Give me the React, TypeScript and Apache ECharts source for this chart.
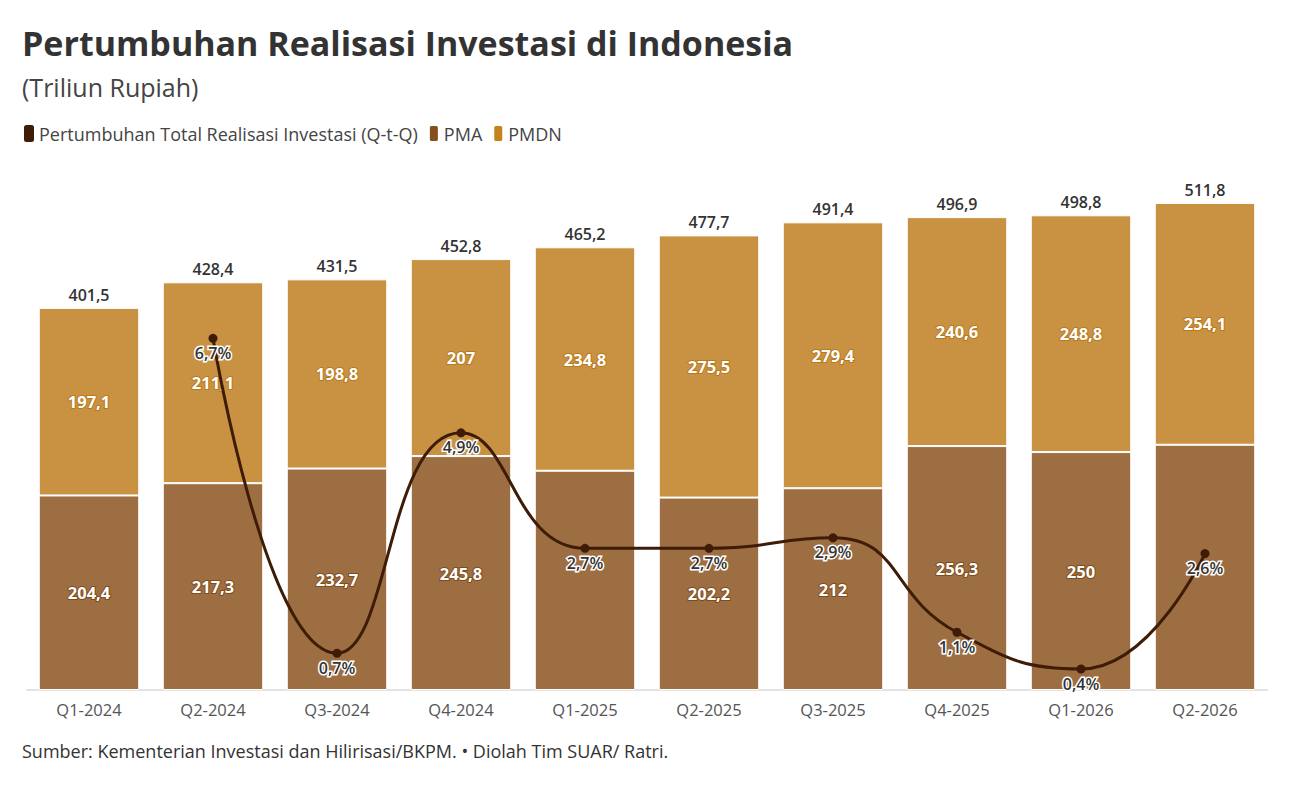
import React, { useEffect, useRef } from 'react';
import * as echarts from 'echarts';

const categories = ['Q1-2024', 'Q2-2024', 'Q3-2024', 'Q4-2024', 'Q1-2025', 'Q2-2025', 'Q3-2025', 'Q4-2025', 'Q1-2026', 'Q2-2026'];
const pma = [204.4, 217.3, 232.7, 245.8, 230.4, 202.2, 212, 256.3, 250, 257.7];
const pmdn = [197.1, 211.1, 198.8, 207, 234.8, 275.5, 279.4, 240.6, 248.8, 254.1];
const totals = [401.5, 428.4, 431.5, 452.8, 465.2, 477.7, 491.4, 496.9, 498.8, 511.8];
const growth = [null, 6.7, 0.7, 4.9, 2.7, 2.7, 2.9, 1.1, 0.4, 2.6];
// PMA labels hidden where the growth label sits on top of them
const pmaLabelHidden = [false, false, false, false, true, false, false, false, false, true];

const FONT = 'Open Sans';
const fmt = (v: number) => String(v).replace('.', ',');

export default function App() {
    const chartRef = useRef<HTMLDivElement>(null);

    useEffect(() => {
        if (!chartRef.current) return;
        const chart = echarts.init(chartRef.current, null, { renderer: 'svg' });

        const option = {
            animation: false,
            textStyle: { fontFamily: FONT },
            title: [
                {
                    text: 'Pertumbuhan Realisasi Investasi di Indonesia',
                    left: 9, top: 13,
                    textStyle: { fontSize: 34, fontWeight: 'bold', color: '#333', fontFamily: FONT },
                },
                {
                    text: '(Triliun Rupiah)',
                    left: 9, top: 61,
                    textStyle: { fontSize: 25, fontWeight: 'normal', color: '#444', fontFamily: FONT },
                },
                {
                    text: 'Sumber: Kementerian Investasi dan Hilirisasi/BKPM. • Diolah Tim SUAR/ Ratri.',
                    left: 9, top: 729,
                    textStyle: { fontSize: 18, fontWeight: 'normal', color: '#333', fontFamily: FONT },
                },
            ],
            legend: {
                left: 11, top: 111,
                itemWidth: 10, itemHeight: 17, itemGap: 10,
                icon: 'roundRect',
                textStyle: { fontSize: 18, color: '#444', fontFamily: FONT, padding: [0, 0, 0, 0] },
                data: [
                    { name: 'Pertumbuhan Total Realisasi Investasi (Q-t-Q)', itemStyle: { color: '#3f1c07' } },
                    { name: 'PMA', itemStyle: { color: '#85501e' } },
                    { name: 'PMDN', itemStyle: { color: '#c4821f' } },
                ],
            },
            grid: { left: 19, right: 17, top: 111, bottom: 91, containLabel: false },
            xAxis: {
                type: 'category',
                data: categories,
                axisLine: { lineStyle: { color: '#e3e3e3', width: 2 } },
                axisTick: { alignWithLabel: true, length: 6, lineStyle: { color: '#e3e3e3' } },
                axisLabel: { fontSize: 16.5, color: '#555', margin: 11, fontFamily: FONT },
            },
            yAxis: [
                { type: 'value', min: 0, max: 600, show: false },
                { type: 'value', min: 0, max: 10.88, show: false },
            ],
            series: [
                {
                    name: 'PMA',
                    type: 'bar',
                    stack: 'total',
                    barWidth: '81%',
                    data: pma.map((v, i) => ({ value: v, label: { show: !pmaLabelHidden[i] } })),
                    itemStyle: { color: '#9d6e42', borderColor: '#fff', borderWidth: 1 },
                    label: {
                        show: true, position: 'inside',
                        formatter: (p: any) => fmt(p.value),
                        color: '#fff', fontSize: 16.5, fontWeight: 'bold', fontFamily: FONT,
                        textBorderColor: '#7f4c1c', textBorderWidth: 2,
                    },
                    z: 2,
                },
                {
                    name: 'PMDN',
                    type: 'bar',
                    stack: 'total',
                    data: pmdn,
                    itemStyle: { color: '#c99243', borderColor: '#fff', borderWidth: 1 },
                    label: {
                        show: true, position: 'inside',
                        formatter: (p: any) => fmt(p.value),
                        color: '#fff', fontSize: 16.5, fontWeight: 'bold', fontFamily: FONT,
                        textBorderColor: '#b97a1c', textBorderWidth: 2,
                    },
                    z: 2,
                },
                {
                    name: 'Total',
                    type: 'bar',
                    stack: 'total',
                    data: totals.map(() => 0),
                    itemStyle: { color: 'transparent' },
                    label: {
                        show: true, position: 'top', distance: 5,
                        formatter: (p: any) => fmt(totals[p.dataIndex]),
                        color: '#333', fontSize: 16, fontWeight: 600, fontFamily: FONT,
                    },
                    tooltip: { show: false },
                    z: 2,
                },
                {
                    name: 'Pertumbuhan Total Realisasi Investasi (Q-t-Q)',
                    type: 'line',
                    yAxisIndex: 1,
                    data: growth,
                    smooth: 0.5,
                    connectNulls: false,
                    symbol: 'circle',
                    symbolSize: 9,
                    lineStyle: { color: '#3f1c07', width: 3 },
                    itemStyle: { color: '#3f1c07' },
                    label: {
                        show: true, position: 'bottom', distance: 2,
                        formatter: (p: any) => fmt(p.value) + '%',
                        color: '#333', fontSize: 16, fontWeight: 600, fontFamily: FONT,
                        textBorderColor: '#fff', textBorderWidth: 3,
                    },
                    z: 5,
                },
            ],
        };

        chart.setOption(option);
        return () => {
            chart.dispose();
        };
    }, []);

    return <div ref={chartRef} style={{ width: '1276px', height: '773px' }}></div>;
}
